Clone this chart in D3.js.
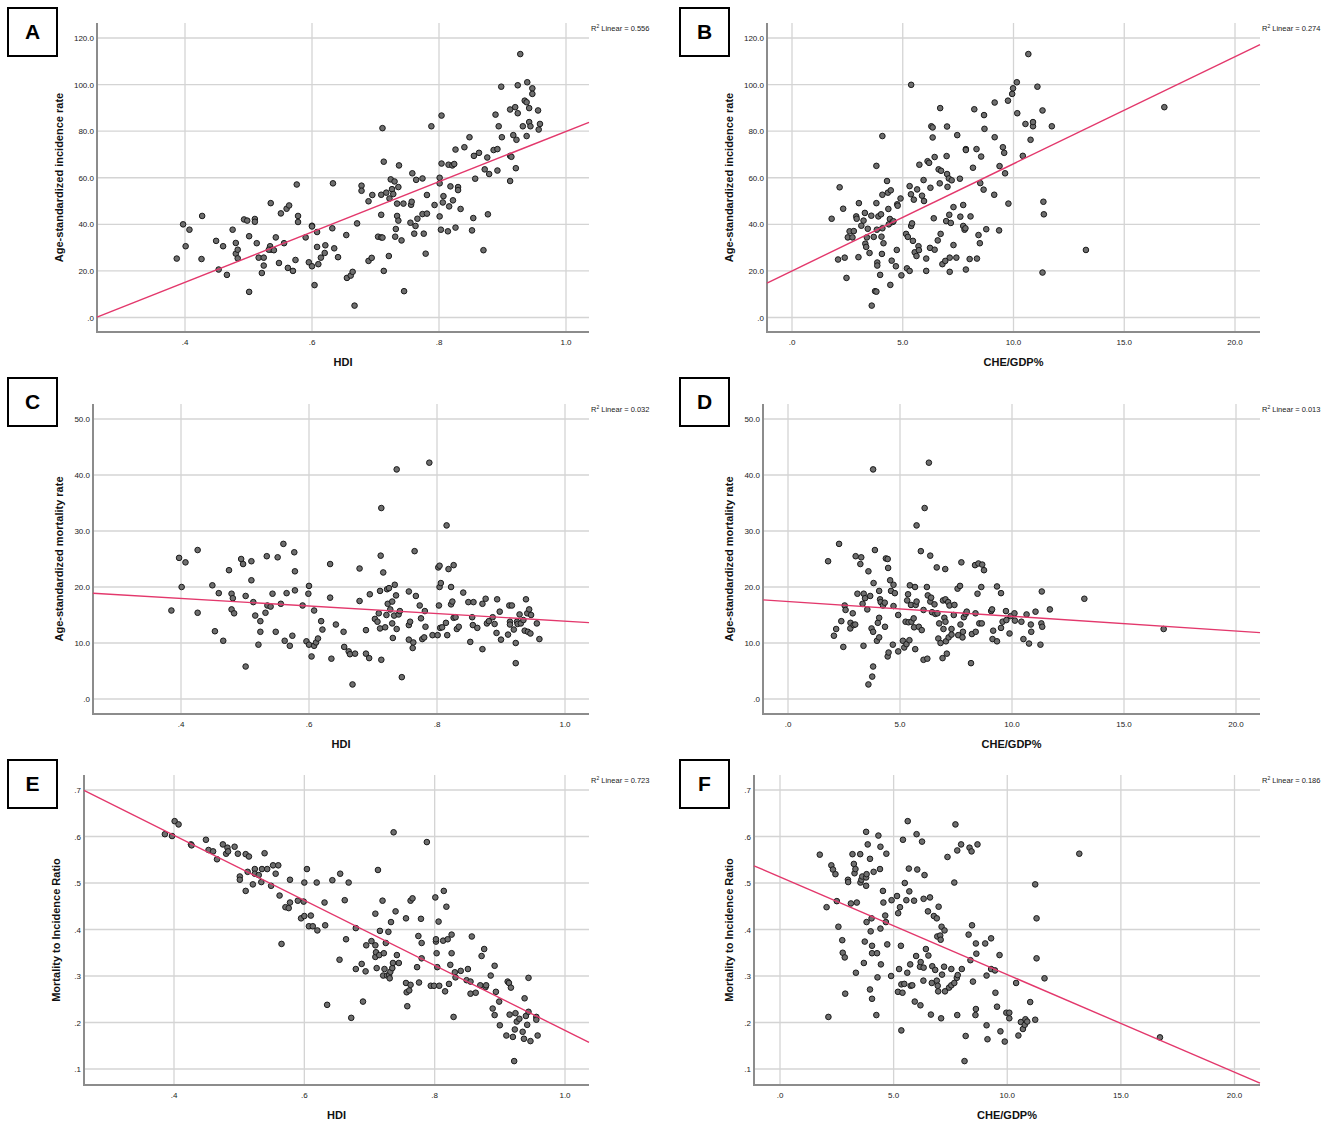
<!DOCTYPE html>
<html>
<head>
<meta charset="utf-8">
<script src="https://cdn.jsdelivr.net/npm/d3@7"></script>
<style>
  body { margin: 0; background: #fff; }
  svg { display: block; font-family: "Liberation Sans", Arial, sans-serif; }
  .grid line { stroke: #d4d4d4; stroke-width: 1.3; }
  .axis-line { stroke: #8c8c8c; stroke-width: 2; }
  .tick-label { font-size: 8px; fill: #222; }
  .axis-title { font-size: 11px; font-weight: bold; fill: #111; }
  .r2 { font-size: 7.5px; fill: #222; }
  .dot { fill: #6e6e6e; stroke: #1a1a1a; stroke-width: 1; }
  .fit { stroke: #e3386c; stroke-width: 1.4; fill: none; }
  .letter { font-size: 21px; font-weight: bold; }
</style>
</head>
<body>
<svg width="1325" height="1124"></svg>
<script>
// tick labels
const hdiTicks = [0.4, 0.6, 0.8, 1.0];
const hdiTickLabels = [".4", ".6", ".8", "1.0"];
const cheTicks = [0, 5, 10, 15, 20];
const cheTickLabels = [".0", "5.0", "10.0", "15.0", "20.0"];
const incTicks = [0, 20, 40, 60, 80, 100, 120];
const incTickLabels = [".0", "20.0", "40.0", "60.0", "80.0", "100.0", "120.0"];
const morTicks = [0, 10, 20, 30, 40, 50];
const morTickLabels = [".0", "10.0", "20.0", "30.0", "40.0", "50.0"];
const mirTicks = [0.1, 0.2, 0.3, 0.4, 0.5, 0.6, 0.7];
const mirTickLabels = [".1", ".2", ".3", ".4", ".5", ".6", ".7"];

// fitted lines [intercept, slope] and R² labels
const fitA = [-28.1, 108], r2A = "0.556";
const fitB = [20.0, 4.6], r2B = "0.274";
const fitC = [20.65, -6.75], r2C = "0.032";
const fitD = [17.4, -0.263], r2D = "0.013";
const fitE = [0.882, -0.699], r2E = "0.723";
const fitF = [0.513, -0.021], r2F = "0.186";

// A: HDI vs age-standardized incidence rate
const hdiIncidence = [
[.387,25.3],[.397,40],[.401,30.6],[.407,37.7],[.427,43.6],[.426,25.1],[.449,32.9],[.453,20.6],[.460,30.6],[.466,18.3],
[.475,37.7],[.480,32],[.480,27.4],[.483,29.1],[.483,25.4],[.493,42.1],[.498,41.6],[.501,34.9],[.501,11],[.510,42.3],
[.510,41.1],[.513,31.9],[.516,25.7],[.521,19.1],[.524,25.7],[.524,22.3],[.535,49.1],[.534,30.6],[.536,29.1],[.532,29.1],
[.540,28.9],[.543,34.4],[.548,23.4],[.551,44.7],[.556,31.9],[.560,46.7],[.564,48.1],[.562,21.3],[.570,20],[.574,24.7],
[.576,57.1],[.578,43.6],[.578,41],[.590,34.4],[.595,23.7],[.600,39.4],[.600,39.1],[.600,22],[.604,13.9],[.608,36.7],
[.608,30.3],[.610,22.9],[.614,25.7],[.620,27.7],[.621,31],[.632,38.3],[.633,57.6],[.635,29.7],[.641,25.9],[.654,35.4],
[.655,17],[.661,18],[.664,19.6],[.667,5.1],[.671,40.4],[.678,56.6],[.678,54.4],[.689,49.9],[.689,24.3],[.694,25.6],
[.695,52.6],[.704,34.7],[.709,34.4],[.711,34.3],[.709,44.1],[.711,81.3],[.713,66.9],[.713,20],[.709,52.7],[.717,53.6],
[.721,26.4],[.722,51.1],[.724,59.3],[.726,55.1],[.728,53],[.730,58.4],[.731,34.7],[.732,38],[.734,48.9],[.734,43.6],
[.736,56],[.736,41.6],[.737,65.3],[.741,33.1],[.744,48.9],[.745,11.3],[.755,40.7],[.756,48.4],[.757,49.7],[.758,61.9],
[.761,36],[.763,39.3],[.764,59.1],[.766,42.4],[.774,59.7],[.774,44.4],[.776,36],[.779,27.4],[.781,52.6],[.781,44.6],
[.788,82.1],[.793,48.3],[.801,43.4],[.801,57.6],[.801,60],[.803,37.7],[.804,86.7],[.804,66.1],[.806,49.4],[.807,52.1],
[.814,37],[.815,65.6],[.816,47.7],[.818,56.3],[.821,65.3],[.822,50.3],[.824,65.9],[.826,72.1],[.826,38.6],[.830,56],
[.830,54.7],[.834,46.6],[.840,73.1],[.848,77.4],[.852,37.4],[.854,42.7],[.855,69.4],[.857,59.6],[.863,70.7],[.870,28.9],
[.872,63.6],[.876,68.7],[.877,44.3],[.879,61.6],[.886,71.9],[.889,87.1],[.892,72.3],[.892,63.1],[.894,82.1],[.898,99.1],
[.899,77.4],[.912,89.3],[.912,58.6],[.912,69.4],[.914,69],[.917,78.3],[.920,90.3],[.921,64.1],[.922,76.3],[.924,99.7],
[.924,87.7],[.928,113.1],[.932,82.1],[.935,93.1],[.938,92.4],[.938,77.9],[.939,101],[.942,89.9],[.942,83.9],[.944,82.1],
[.947,98.4],[.947,96],[.956,88.9],[.957,80.7],[.959,83.1]
];

// B: CHE/GDP% vs age-standardized incidence rate
const cheIncidence = [
[1.79,42.4],[2.08,24.9],[2.15,55.9],[2.31,46.7],[2.38,25.7],[2.46,17],[2.52,34.4],[2.6,37],[2.73,34.4],[2.79,37.1],
[2.9,43.4],[2.92,42.4],[3,25.9],[3.02,49.1],[3.13,39.4],[3.23,41.6],[3.29,44.9],[3.31,31.7],[3.35,30.3],[3.38,34.4],
[3.42,38.1],[3.5,27.7],[3.58,43.7],[3.6,5.1],[3.69,34.6],[3.75,11.3],[3.81,11.1],[3.81,65.1],[3.81,49.1],[3.83,37.7],
[3.85,23.6],[3.85,22.3],[3.9,43.4],[3.98,18.3],[4.02,44.3],[4.04,34.7],[4.06,27.3],[4.08,38.3],[4.08,77.9],[4.08,52.7],
[4.13,31.9],[4.29,58.6],[4.33,53.6],[4.35,46.6],[4.37,40],[4.42,42.3],[4.44,14],[4.46,54.6],[4.5,24.4],[4.54,41],
[4.58,41.3],[4.69,22],[4.73,29],[4.75,48.6],[4.77,48],[4.9,51.1],[4.94,18.1],[5.15,35.9],[5.19,21.1],[5.23,34.6],
[5.31,56.4],[5.31,20],[5.37,52.9],[5.38,99.9],[5.38,39.3],[5.42,40.4],[5.46,32.9],[5.5,50.6],[5.54,28],[5.62,26.4],
[5.65,55],[5.71,30.6],[5.73,28.9],[5.75,65.6],[5.87,52.3],[5.94,59],[5.96,50],[6.06,25.3],[6.06,20],[6.12,67.1],
[6.19,66.4],[6.23,29.9],[6.25,55.7],[6.29,82.1],[6.35,81.6],[6.35,77.3],[6.4,42.6],[6.44,29.1],[6.44,68.9],[6.58,33.1],
[6.62,63.6],[6.67,57.6],[6.69,89.9],[6.71,35.9],[6.73,63],[6.79,22.9],[6.92,24.3],[6.96,41.4],[6.98,69.3],[7,82],
[7,61.6],[7.02,56.1],[7.08,59.7],[7.1,44.1],[7.12,19.6],[7.12,25.7],[7.17,40.6],[7.21,58.9],[7.29,31.1],[7.29,47.4],
[7.42,25.7],[7.46,78.3],[7.58,59.6],[7.6,43.3],[7.73,48.3],[7.73,39.3],[7.79,37.7],[7.83,38.3],[7.85,20.6],[7.85,72.3],
[7.85,71.9],[8.02,25.1],[8.06,43.4],[8.17,64.3],[8.23,89.4],[8.33,72.3],[8.35,25.3],[8.42,35.4],[8.48,31.9],[8.5,57.7],
[8.54,69.1],[8.65,54.9],[8.67,86.9],[8.69,81],[8.77,37.9],[9.13,52.7],[9.15,92.3],[9.15,77.4],[9.35,37.4],[9.37,65],
[9.52,73.1],[9.58,70.7],[9.62,61.9],[9.75,93.1],[9.77,48.9],[9.94,96],[9.98,98.4],[10.15,101],[10.17,87.7],[10.42,69.4],
[10.54,83.1],[10.67,113.1],[10.77,76.3],[10.88,82.1],[10.88,83.9],[11.08,99.1],[11.31,88.9],[11.31,19.3],[11.35,49.7],[11.37,44.3],
[11.73,82.1],[13.27,29],[16.81,90.3]
];

// C: HDI vs age-standardized mortality rate
const hdiMortality = [
[.385,15.8],[.397,25.2],[.401,20],[.407,24.4],[.426,15.4],[.426,26.6],[.449,20.3],[.453,12.1],[.459,18.9],[.466,10.4],
[.475,23],[.479,18.8],[.479,16],[.481,18],[.483,15.3],[.494,25],[.497,24.1],[.501,18.4],[.501,5.8],[.510,24.6],
[.510,21.2],[.513,17.3],[.516,14.9],[.521,9.7],[.524,13.9],[.524,12],[.532,15.4],[.534,25.5],[.535,16.7],[.540,16.5],
[.543,18.8],[.548,12],[.551,25.3],[.556,17],[.560,27.7],[.562,10.4],[.565,18.9],[.570,9.5],[.574,11.3],[.577,26.2],
[.578,22.8],[.578,19.4],[.590,16.7],[.596,10.3],[.599,18.8],[.600,20.2],[.600,9.7],[.604,7.6],[.608,15.8],[.608,9.5],
[.611,10.1],[.614,10.8],[.619,13.9],[.621,12.4],[.633,18.1],[.633,24.1],[.635,7.2],[.642,13.3],[.654,12],[.655,9.3],
[.662,8.5],[.664,8],[.668,2.6],[.672,8.1],[.679,23.3],[.679,17.5],[.689,8.1],[.689,12.3],[.694,7.3],[.695,18.7],
[.703,14.3],[.707,13.8],[.709,15.3],[.711,19.3],[.711,12.6],[.712,25.6],[.713,34.1],[.713,7],[.716,22.6],[.719,12.8],
[.721,15],[.722,19.6],[.723,17],[.725,19.8],[.727,16],[.730,17.4],[.730,13.5],[.731,10.9],[.733,14.9],[.734,20.4],
[.736,18.5],[.737,41],[.737,12.5],[.740,15.1],[.742,15.7],[.745,3.9],[.756,13.2],[.756,19.2],[.756,10.6],[.758,13.8],
[.762,9.1],[.763,10.1],[.765,26.4],[.767,18.4],[.773,16.7],[.775,14.4],[.777,10.7],[.780,11],[.781,15.7],[.782,12.9],
[.788,42.2],[.793,11.4],[.801,11.4],[.802,23.5],[.803,16.7],[.804,23.8],[.804,20],[.805,12.7],[.806,20.7],[.808,12.8],
[.814,13.6],[.815,31],[.816,11.4],[.818,23.2],[.822,20],[.822,16.9],[.824,17.4],[.826,23.9],[.826,14.5],[.829,14.6],
[.831,12.5],[.834,12.9],[.841,19],[.849,17.3],[.852,10.2],[.855,14.6],[.856,13.2],[.857,17.3],[.863,12.7],[.871,8.9],
[.871,17],[.876,17.9],[.878,13.5],[.881,13.9],[.887,14.6],[.890,13.4],[.893,11.8],[.894,17.8],[.898,15.6],[.900,10.6],
[.911,11.5],[.913,16.7],[.914,13.8],[.914,13.3],[.917,16.7],[.920,12.4],[.923,10],[.923,6.4],[.925,13.8],[.926,13.4],
[.929,15.1],[.931,13.5],[.935,14.1],[.937,12.2],[.939,17.8],[.941,15.3],[.942,12],[.944,16],[.946,11.7],[.947,15],
[.956,13.5],[.960,10.7]
];

// D: CHE/GDP% vs age-standardized mortality rate
const cheMortality = [
[1.79,24.6],[2.05,11.3],[2.15,12.5],[2.28,27.7],[2.38,13.9],[2.47,9.3],[2.53,16.7],[2.57,15.9],[2.78,12.6],[2.79,13.6],
[2.89,15.3],[2.93,13.2],[3.0,13.3],[3.02,25.5],[3.1,18.8],[3.23,24.1],[3.27,25.3],[3.33,17],[3.37,9.5],[3.38,18.8],
[3.44,18],[3.54,16],[3.59,22.8],[3.59,2.6],[3.67,18.4],[3.73,12.6],[3.76,4],[3.8,41],[3.8,5.8],[3.8,12],
[3.82,20.7],[3.88,26.6],[3.97,10.4],[4.01,13.6],[4.07,19.3],[4.07,11],[4.07,14.5],[4.11,17.8],[4.14,17.3],[4.24,16.7],
[4.32,17.2],[4.33,12.9],[4.37,25.1],[4.45,25],[4.45,7.6],[4.47,23.4],[4.49,8.3],[4.56,21.2],[4.6,19.3],[4.68,9.7],
[4.71,20.4],[4.71,16.6],[4.77,18.9],[4.92,15],[4.92,8.5],[5.13,10.4],[5.19,9.2],[5.25,13.8],[5.29,9.8],[5.32,17.6],
[5.36,18.7],[5.38,13.7],[5.42,10.5],[5.44,20.3],[5.49,16.8],[5.51,13.8],[5.61,14.4],[5.63,12.8],[5.67,20],[5.68,8.9],
[5.7,16.8],[5.74,17.4],[5.74,31],[5.84,12.9],[5.93,26.4],[5.97,12.3],[6.05,15.9],[6.05,7],[6.1,34.1],[6.2,20],
[6.22,7.2],[6.24,18.5],[6.29,42.2],[6.35,25.6],[6.35,17.4],[6.39,18.1],[6.43,15.5],[6.54,16.9],[6.58,15.2],[6.64,23.5],
[6.67,15.3],[6.71,10.8],[6.75,13.5],[6.81,10],[6.9,7.3],[6.92,17.6],[6.94,12.5],[6.98,14.5],[7.02,23.2],[7.03,17.8],
[7.03,13.8],[7.05,10.3],[7.09,8.1],[7.15,17.3],[7.17,11],[7.21,16.7],[7.3,12.5],[7.3,11.5],[7.4,15],[7.43,16.8],
[7.57,19.7],[7.6,11.4],[7.68,20.2],[7.7,13.3],[7.74,24.4],[7.79,11],[7.81,12],[7.85,14.6],[7.93,15.2],[7.98,15.6],
[8.17,6.4],[8.21,11.6],[8.35,23.9],[8.37,15.3],[8.38,12],[8.46,18.8],[8.5,24.2],[8.54,13.5],[8.63,20],[8.65,13.5],
[8.67,24],[8.75,23],[9.07,15.7],[9.11,16],[9.13,10.7],[9.16,12.2],[9.33,10.3],[9.33,20.1],[9.51,18.9],[9.51,12.7],
[9.58,13.8],[9.73,15.7],[9.75,14.1],[9.89,11.7],[9.94,14.8],[10.11,15.3],[10.13,14],[10.42,13.8],[10.51,10.7],[10.65,15.1],
[10.76,9.9],[10.84,13.3],[10.86,12],[11.05,15.6],[11.27,9.7],[11.31,13.5],[11.33,19.2],[11.35,12.9],[11.69,16],[13.23,17.9],
[16.77,12.5]
];

// E: HDI vs mortality to incidence ratio
const hdiMir = [
[.386,.605],[.397,.601],[.401,.633],[.407,.626],[.426,.583],[.427,.581],[.449,.593],[.453,.571],[.460,.568],[.466,.551],
[.475,.583],[.480,.563],[.482,.576],[.483,.568],[.493,.578],[.498,.563],[.501,.514],[.501,.507],[.510,.562],[.510,.483],
[.513,.524],[.515,.557],[.521,.497],[.524,.530],[.524,.520],[.530,.517],[.534,.502],[.535,.530],[.539,.564],[.543,.530],
[.549,.494],[.552,.538],[.556,.520],[.560,.538],[.562,.473],[.565,.369],[.571,.448],[.576,.446],[.578,.458],[.578,.507],
[.590,.462],[.595,.424],[.599,.460],[.600,.429],[.600,.501],[.604,.530],[.607,.407],[.610,.430],[.613,.407],[.619,.501],
[.620,.398],[.631,.458],[.632,.409],[.635,.238],[.643,.506],[.654,.335],[.655,.520],[.662,.463],[.664,.379],[.668,.501],
[.672,.210],[.679,.403],[.679,.315],[.688,.326],[.690,.245],[.694,.310],[.695,.366],[.703,.375],[.709,.366],[.709,.434],
[.709,.341],[.710,.351],[.711,.317],[.713,.528],[.715,.345],[.716,.397],[.720,.462],[.721,.301],[.722,.349],[.723,.315],
[.725,.371],[.727,.301],[.729,.395],[.730,.302],[.731,.295],[.732,.309],[.733,.416],[.735,.317],[.736,.328],[.737,.609],
[.740,.439],[.742,.345],[.745,.328],[.756,.424],[.756,.285],[.757,.265],[.758,.235],[.761,.269],[.763,.281],[.763,.462],
[.766,.467],[.773,.319],[.775,.386],[.776,.286],[.779,.423],[.780,.371],[.780,.338],[.788,.588],[.794,.279],[.799,.279],
[.801,.469],[.802,.374],[.802,.379],[.803,.349],[.804,.319],[.806,.417],[.807,.279],[.813,.376],[.814,.483],[.816,.267],
[.818,.449],[.820,.379],[.822,.283],[.824,.324],[.826,.389],[.826,.349],[.829,.212],[.831,.308],[.832,.297],[.840,.311],
[.849,.291],[.851,.315],[.855,.288],[.855,.262],[.857,.385],[.863,.264],[.870,.280],[.872,.343],[.876,.358],[.878,.276],
[.879,.280],[.886,.301],[.889,.230],[.892,.322],[.892,.216],[.894,.266],[.899,.245],[.900,.194],[.910,.172],[.912,.288],
[.914,.285],[.915,.217],[.917,.275],[.920,.169],[.922,.117],[.923,.185],[.924,.220],[.926,.202],[.930,.208],[.935,.180],
[.937,.165],[.938,.252],[.940,.214],[.942,.195],[.944,.296],[.944,.223],[.947,.160],[.956,.212],[.956,.206],[.958,.172]
];

// F: CHE/GDP% vs mortality to incidence ratio
const cheMir = [
[1.75,.561],[2.05,.448],[2.13,.212],[2.26,.538],[2.33,.529],[2.44,.519],[2.5,.461],[2.57,.406],[2.74,.377],[2.76,.350],
[2.85,.340],[2.87,.262],[2.99,.507],[3.0,.502],[3.12,.456],[3.19,.562],[3.25,.541],[3.28,.521],[3.32,.530],[3.34,.307],
[3.38,.458],[3.53,.562],[3.54,.501],[3.58,.507],[3.62,.514],[3.69,.328],[3.73,.374],[3.79,.610],[3.79,.512],[3.79,.494],
[3.81,.416],[3.81,.519],[3.86,.583],[3.96,.271],[3.96,.552],[3.99,.396],[4.03,.424],[4.05,.365],[4.05,.251],[4.05,.349],
[4.12,.524],[4.24,.216],[4.27,.349],[4.29,.297],[4.33,.602],[4.4,.530],[4.42,.402],[4.42,.578],[4.44,.325],[4.53,.483],
[4.55,.458],[4.63,.430],[4.66,.416],[4.68,.563],[4.72,.368],[4.89,.300],[4.91,.463],[5.15,.472],[5.19,.266],[5.2,.435],
[5.24,.315],[5.28,.448],[5.32,.365],[5.34,.183],[5.34,.282],[5.39,.264],[5.41,.593],[5.47,.283],[5.49,.500],[5.56,.463],
[5.6,.307],[5.62,.633],[5.67,.531],[5.69,.482],[5.73,.325],[5.75,.279],[5.82,.280],[5.9,.462],[5.93,.245],[5.99,.343],
[6.01,.605],[6.04,.529],[6.16,.320],[6.18,.237],[6.19,.330],[6.25,.589],[6.31,.290],[6.32,.318],[6.32,.466],[6.36,.517],
[6.42,.358],[6.51,.439],[6.53,.344],[6.6,.469],[6.64,.217],[6.68,.285],[6.7,.321],[6.77,.429],[6.83,.313],[6.9,.424],
[6.9,.290],[6.92,.385],[6.94,.279],[6.96,.267],[6.98,.449],[7.05,.387],[7.07,.378],[7.09,.209],[7.11,.406],[7.13,.303],
[7.22,.320],[7.24,.398],[7.26,.267],[7.37,.556],[7.44,.275],[7.54,.315],[7.54,.280],[7.67,.501],[7.67,.285],[7.72,.626],
[7.78,.296],[7.8,.570],[7.8,.216],[7.82,.302],[7.97,.583],[8.0,.315],[8.12,.117],[8.17,.171],[8.3,.389],[8.34,.576],
[8.38,.334],[8.43,.568],[8.45,.409],[8.49,.288],[8.6,.216],[8.62,.229],[8.62,.370],[8.64,.348],[8.69,.583],[9.03,.370],
[9.09,.301],[9.09,.194],[9.13,.164],[9.29,.381],[9.29,.315],[9.46,.312],[9.48,.264],[9.55,.234],[9.66,.345],[9.7,.181],
[9.89,.159],[9.96,.221],[10.09,.221],[10.09,.209],[10.39,.285],[10.49,.172],[10.6,.201],[10.69,.186],[10.77,.195],[10.8,.207],
[10.88,.202],[11.01,.244],[11.23,.206],[11.23,.497],[11.29,.424],[11.29,.338],[11.64,.295],[13.17,.563],[16.72,.168]
];

const svg = d3.select("svg");

// panel layout in pixels (plot box and where the end ticks fall)
const panels = [
	{ letter: "A", data: hdiIncidence, fit: fitA, r2: r2A,
	  xT: hdiTicks, xL: hdiTickLabels, yT: incTicks, yL: incTickLabels,
	  xTitle: "HDI", yTitle: "Age-standardized incidence rate",
	  box: { l: 97, r: 589, t: 23, b: 332 }, xPix: [185, 566], yPix: [317.5, 38],
	  tag: { x: 8, y: 8 }, yTitleX: 59 },
	{ letter: "B", data: cheIncidence, fit: fitB, r2: r2B,
	  xT: cheTicks, xL: cheTickLabels, yT: incTicks, yL: incTickLabels,
	  xTitle: "CHE/GDP%", yTitle: "Age-standardized incidence rate",
	  box: { l: 767, r: 1260, t: 23, b: 332 }, xPix: [792, 1235], yPix: [317.5, 38],
	  tag: { x: 680, y: 8 }, yTitleX: 729 },
	{ letter: "C", data: hdiMortality, fit: fitC, r2: r2C,
	  xT: hdiTicks, xL: hdiTickLabels, yT: morTicks, yL: morTickLabels,
	  xTitle: "HDI", yTitle: "Age-standardized mortality rate",
	  box: { l: 93, r: 589, t: 404, b: 714 }, xPix: [181, 565], yPix: [699, 419],
	  tag: { x: 8, y: 378 }, yTitleX: 59 },
	{ letter: "D", data: cheMortality, fit: fitD, r2: r2D,
	  xT: cheTicks, xL: cheTickLabels, yT: morTicks, yL: morTickLabels,
	  xTitle: "CHE/GDP%", yTitle: "Age-standardized mortality rate",
	  box: { l: 763, r: 1260, t: 404, b: 714 }, xPix: [788, 1236], yPix: [699, 419],
	  tag: { x: 680, y: 378 }, yTitleX: 729 },
	{ letter: "E", data: hdiMir, fit: fitE, r2: r2E,
	  xT: hdiTicks, xL: hdiTickLabels, yT: mirTicks, yL: mirTickLabels,
	  xTitle: "HDI", yTitle: "Mortality to Incidence Ratio",
	  box: { l: 84, r: 589, t: 775, b: 1085 }, xPix: [174, 565], yPix: [1069, 790],
	  tag: { x: 8, y: 760 }, yTitleX: 56 },
	{ letter: "F", data: cheMir, fit: fitF, r2: r2F,
	  xT: cheTicks, xL: cheTickLabels, yT: mirTicks, yL: mirTickLabels,
	  xTitle: "CHE/GDP%", yTitle: "Mortality to Incidence Ratio",
	  box: { l: 754, r: 1260, t: 775, b: 1085 }, xPix: [780, 1234.5], yPix: [1069, 790],
	  tag: { x: 680, y: 760 }, yTitleX: 729 },
];

panels.forEach(drawPanel);

function drawPanel(p) {
	const b = p.box;
	const x = d3.scaleLinear()
		.domain([p.xT[0], p.xT[p.xT.length - 1]])
		.range(p.xPix);
	const y = d3.scaleLinear()
		.domain([p.yT[0], p.yT[p.yT.length - 1]])
		.range(p.yPix);

	const g = svg.append("g");

	// grid
	const grid = g.append("g").classed("grid", true);
	grid.selectAll(".gx")
		.data(p.xT)
		.join("line")
		.attr("x1", (d) => x(d)).attr("x2", (d) => x(d))
		.attr("y1", b.t).attr("y2", b.b);
	grid.selectAll(".gy")
		.data(p.yT)
		.join("line")
		.attr("x1", b.l).attr("x2", b.r)
		.attr("y1", (d) => y(d)).attr("y2", (d) => y(d));

	// tick labels
	g.selectAll(".xl")
		.data(p.xT)
		.join("text")
		.attr("class", "tick-label")
		.attr("x", (d) => x(d))
		.attr("y", b.b + 13)
		.attr("text-anchor", "middle")
		.text((d, i) => p.xL[i]);
	g.selectAll(".yl")
		.data(p.yT)
		.join("text")
		.attr("class", "tick-label")
		.attr("x", b.l - 3)
		.attr("y", (d) => y(d) + 3)
		.attr("text-anchor", "end")
		.text((d, i) => p.yL[i]);

	// axis lines
	g.append("line").attr("class", "axis-line")
		.attr("x1", b.l).attr("x2", b.l).attr("y1", b.t).attr("y2", b.b + 1);
	g.append("line").attr("class", "axis-line")
		.attr("x1", b.l - 1).attr("x2", b.r).attr("y1", b.b).attr("y2", b.b);

	// points
	g.selectAll(".dot")
		.data(p.data)
		.join("circle")
		.attr("class", "dot")
		.attr("cx", (d) => x(d[0]))
		.attr("cy", (d) => y(d[1]))
		.attr("r", 2.8);

	// fit line across the plot width
	const x0 = x.invert(b.l), x1 = x.invert(b.r);
	g.append("path")
		.datum([x0, x1])
		.attr("class", "fit")
		.attr("d", d3.line()
			.x((d) => x(d))
			.y((d) => y(p.fit[0] + p.fit[1] * d)));

	// R² label
	const r2 = g.append("text").attr("class", "r2")
		.attr("x", b.r + 2).attr("y", b.t + 8);
	r2.append("tspan").text("R");
	r2.append("tspan").attr("font-size", "5px").attr("dy", -3).text("2");
	r2.append("tspan").attr("dy", 3).text(" Linear = " + p.r2);

	// axis titles
	g.append("text").attr("class", "axis-title")
		.attr("x", (b.l + b.r) / 2).attr("y", b.b + 34)
		.attr("text-anchor", "middle")
		.text(p.xTitle);
	g.append("text").attr("class", "axis-title")
		.attr("transform", `translate(${p.yTitleX + 4}, ${(b.t + b.b) / 2}) rotate(-90)`)
		.attr("text-anchor", "middle")
		.text(p.yTitle);

	// panel letter
	g.append("rect")
		.attr("x", p.tag.x).attr("y", p.tag.y)
		.attr("width", 49).attr("height", 48)
		.attr("fill", "#fff").attr("stroke", "#000").attr("stroke-width", 2);
	g.append("text").attr("class", "letter")
		.attr("x", p.tag.x + 24.5).attr("y", p.tag.y + 31)
		.attr("text-anchor", "middle")
		.text(p.letter);
}
</script>
</body>
</html>
